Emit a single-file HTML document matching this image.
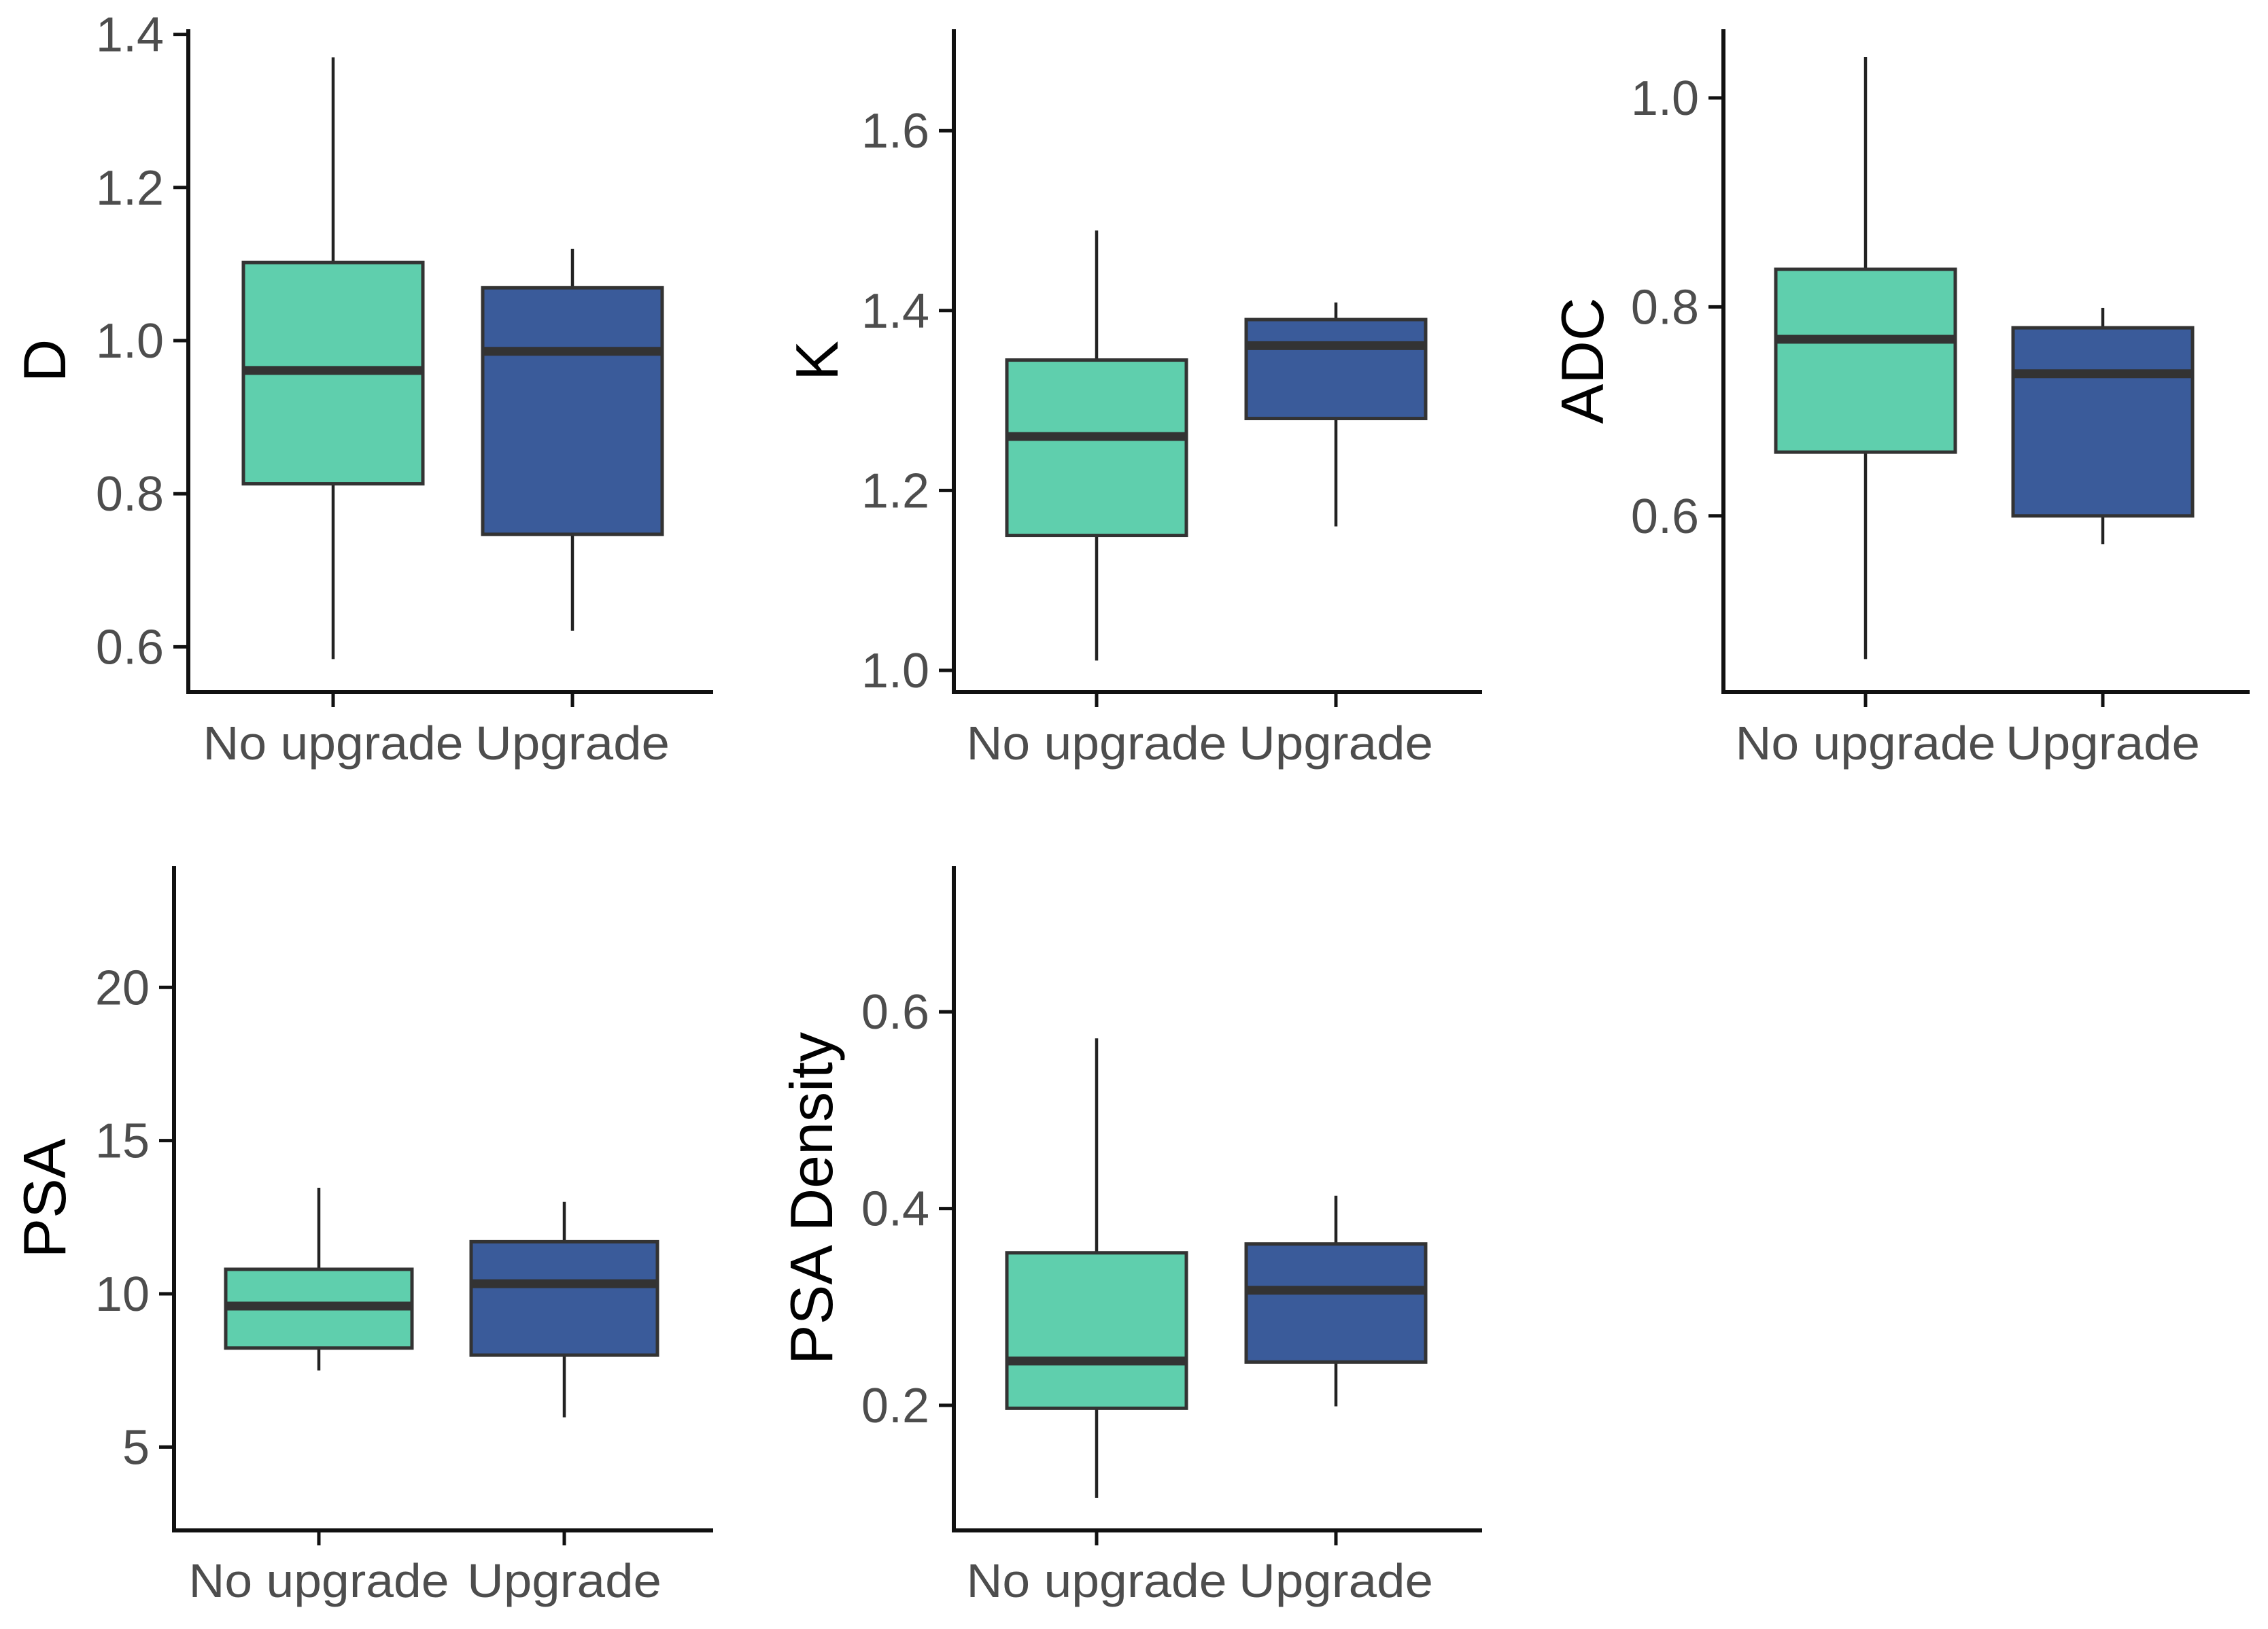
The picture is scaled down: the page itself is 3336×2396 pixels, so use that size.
<!DOCTYPE html>
<html><head><meta charset="utf-8"><style>
html,body{margin:0;padding:0;background:#fff;}
svg{display:block;font-family:"Liberation Sans",Arial,sans-serif;}
</style></head><body>
<svg id="chart" width="3336" height="2396" viewBox="0 0 3336 2396" xmlns="http://www.w3.org/2000/svg"></svg>
<script>
const categories = ["No upgrade", "Upgrade"];
// five-number summaries: [lower whisker, Q1, median, Q3, upper whisker]
const dNoUpgrade = [0.584, 0.813, 0.961, 1.102, 1.370];
const dUpgrade = [0.621, 0.747, 0.986, 1.069, 1.120];
const kNoUpgrade = [1.011, 1.150, 1.260, 1.345, 1.489];
const kUpgrade = [1.160, 1.280, 1.361, 1.390, 1.409];
const adcNoUpgrade = [0.463, 0.661, 0.769, 0.836, 1.039];
const adcUpgrade = [0.573, 0.600, 0.736, 0.780, 0.799];
const psaNoUpgrade = [7.5, 8.23, 9.6, 10.8, 13.46];
const psaUpgrade = [5.97, 8.0, 10.33, 11.7, 13.0];
const psadNoUpgrade = [0.106, 0.197, 0.245, 0.355, 0.573];
const psadUpgrade = [0.199, 0.244, 0.317, 0.364, 0.413];
const dTicks = ["0.6", "0.8", "1.0", "1.2", "1.4"];
const kTicks = ["1.0", "1.2", "1.4", "1.6"];
const adcTicks = ["0.6", "0.8", "1.0"];
const psaTicks = ["5", "10", "15", "20"];
const psadTicks = ["0.2", "0.4", "0.6"];

const NS = "http://www.w3.org/2000/svg";
const svg = document.getElementById("chart");
function mk(tag, attrs, parent) {
  const e = document.createElementNS(NS, tag);
  for (const k in attrs) e.setAttribute(k, attrs[k]);
  (parent || svg).appendChild(e);
  return e;
}
const fills = ["#5fcfad", "#3a5b9a"];
const panels = [
  {name:"d", title:"D", ticks:dTicks, series:[dNoUpgrade, dUpgrade], ax:277, top:43, bot:1018, right:1049, anchorV:1.0, anchorY:501, ppu:1126, cx:[490, 842], hw:132, titleX:96, labY:1117},
  {name:"k", title:"K", ticks:kTicks, series:[kNoUpgrade, kUpgrade], ax:1403, top:43, bot:1018, right:2180, anchorV:1.0, anchorY:986, ppu:1323, cx:[1613, 1965], hw:132, titleX:1232, labY:1117},
  {name:"adc", title:"ADC", ticks:adcTicks, series:[adcNoUpgrade, adcUpgrade], ax:2535, top:43, bot:1018, right:3309, anchorV:1.0, anchorY:144, ppu:1537, cx:[2744, 3093], hw:132, titleX:2358, labY:1117},
  {name:"psa", title:"PSA", ticks:psaTicks, series:[psaNoUpgrade, psaUpgrade], ax:256, top:1274, bot:2251, right:1049, anchorV:10, anchorY:1903, ppu:45.07, cx:[469, 830], hw:137, titleX:96, labY:2349},
  {name:"psa-density", title:"PSA Density", ticks:psadTicks, series:[psadNoUpgrade, psadUpgrade], ax:1403, top:1274, bot:2251, right:2180, anchorV:0.2, anchorY:2067, ppu:1447, cx:[1613, 1965], hw:132, titleX:1224, labY:2349}
];

panels.forEach(p => {
  const g = mk("g", {});
  
  
  const y = v => p.anchorY - (v - p.anchorV) * p.ppu;
  p.series.forEach((s, i) => {
    const bg = mk("g", {}, g);
    
    
    const cx = p.cx[i];
    const w1 = mk("line", {x1:cx, x2:cx, y1:y(s[4]), y2:y(s[3]), stroke:"#222", "stroke-width":4.5}, bg);
    
    
    const w2 = mk("line", {x1:cx, x2:cx, y1:y(s[1]), y2:y(s[0]), stroke:"#222", "stroke-width":4.5}, bg);
    
    
    const r = mk("rect", {x:cx - p.hw, y:y(s[3]), width:2 * p.hw, height:y(s[1]) - y(s[3]), fill:fills[i], stroke:"#333", "stroke-width":5}, bg);
    
    
    const m = mk("line", {x1:cx - p.hw, x2:cx + p.hw, y1:y(s[2]), y2:y(s[2]), stroke:"#333", "stroke-width":13}, bg);
    
    
  });
  const ya = mk("line", {x1:p.ax, x2:p.ax, y1:p.top, y2:p.bot + 3, stroke:"#111", "stroke-width":6}, g);
  
  
  const xa = mk("line", {x1:p.ax - 3, x2:p.right, y1:p.bot, y2:p.bot, stroke:"#111", "stroke-width":6}, g);
  
  
  p.ticks.forEach(t => {
    const ty = y(parseFloat(t));
    const tl = mk("line", {x1:p.ax - 22, x2:p.ax, y1:ty, y2:ty, stroke:"#111", "stroke-width":5}, g);
    
    
    const tx = mk("text", {x:p.ax - 36, y:ty + 25, "text-anchor":"end", "font-size":72, fill:"#4d4d4d"}, g);
    tx.textContent = t;
    
    
  });
  categories.forEach((c, i) => {
    const cx = p.cx[i];
    const tl = mk("line", {x1:cx, x2:cx, y1:p.bot, y2:p.bot + 22, stroke:"#111", "stroke-width":5}, g);
    
    
    const tx = mk("text", {x:cx, y:p.labY, "text-anchor":"middle", "font-size":70, fill:"#4d4d4d", textLength: i === 0 ? 383 : 286, lengthAdjust:"spacingAndGlyphs"}, g);
    tx.textContent = c;
    
    
  });
  const cy = (p.top + p.bot) / 2;
  const tt = mk("text", {x:p.titleX, y:cy, "text-anchor":"middle", "font-size":88, fill:"#000", transform:"rotate(-90 " + p.titleX + " " + cy + ")"}, g);
  tt.textContent = p.title;
  
  
});
</script>
</body></html>
